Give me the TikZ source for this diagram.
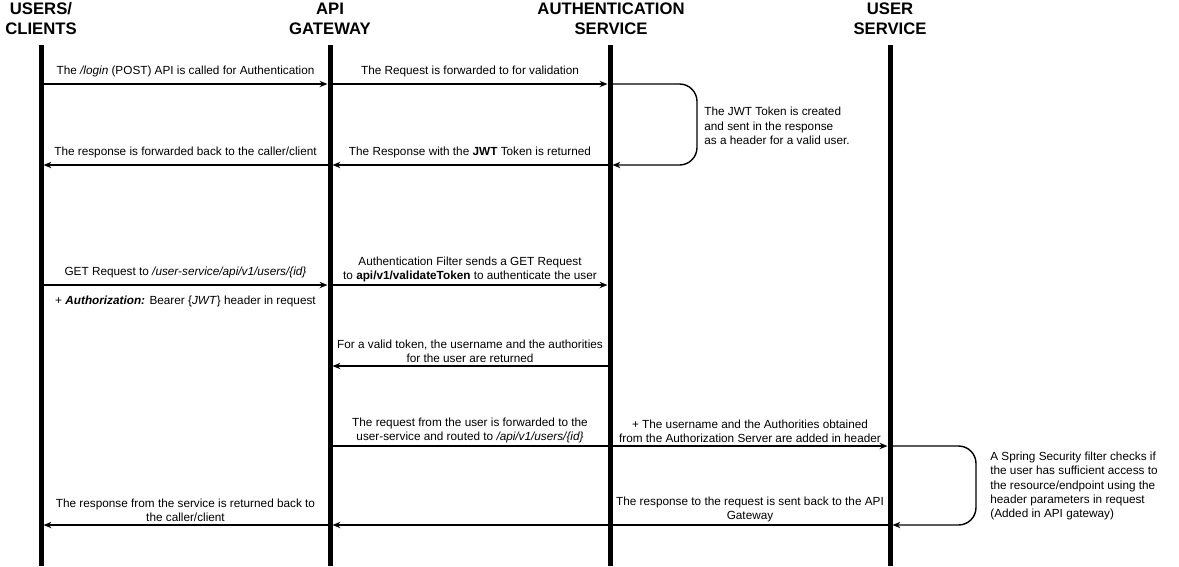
\documentclass[tikz,border=0pt]{standalone}
\usepackage{fontspec}
\setmainfont{Liberation Sans}
\usetikzlibrary{arrows.meta}

\begin{document}
\begin{tikzpicture}[x=0.02cm,y=-0.02cm,
    msg/.style={draw,line width=0.8pt,shorten >=0.05cm,-{Stealth[length=4.5pt,width=3.6pt]}},
    lbl/.style={above=2.8pt,inner sep=1pt},
    lbltwo/.style={above=0.3pt,inner sep=1pt,align=center},
    note/.style={anchor=west,align=left,inner sep=0pt}]

        \useasboundingbox (0,0) rectangle (1179,566);

        \begin{scope}[every node/.style={font=\bfseries\fontsize{9.5}{11.4}\selectfont,align=center}]
          \node (users)   at (41,19)  {USERS/\\CLIENTS};
          \node (gateway) at (330,19) {API\\GATEWAY};
          \node (auth)    at (611,19) {AUTHENTICATION\\SERVICE};
          \node (usersvc) at (890,19) {USER\\SERVICE};
        \end{scope}

        % lifelines, with one point per message row
        \foreach \n/\x in {u/41,g/330,a/610,s/890} {
          \coordinate (\n0) at (\x,45);
          \coordinate (\n9) at (\x,566);
          \draw[line width=0.1cm] (\n0) -- (\n9);
          \foreach \k/\y in {1/84,2/165,3/285,4/366,5/446,6/525}
            \coordinate (\n\k) at (\x,\y);
        }
        \coordinate (loopa) at (697,124);
        \coordinate (loops) at (976,486);

        \begin{scope}[every node/.style={font=\fontsize{6.7}{8.2}\selectfont}]

          \path (u1) edge[msg] node[lbl] {The \textit{/login} (POST) API is called for Authentication} (g1);
          \path (g1) edge[msg] node[lbl] {The Request is forwarded to for validation} (a1);
          \draw[msg,rounded corners=0.35cm] (a1) -| (loopa) |- (a2);
          \node[note] (jwtnote) at (704,126) {The JWT Token is created\\and sent in the response\\as a header for a valid user.};
          \path (a2) edge[msg] node[lbl] {The Response with the \textbf{JWT} Token is returned} (g2);
          \path (g2) edge[msg] node[lbl] {The response is forwarded back to the caller/client} (u2);

          \path (u3) edge[msg] node[lbl] {GET Request to \textit{/user-service/api/v1/users/\{id\}}}
                               node[below=5pt,inner sep=1pt] {+ \textbf{\textit{Authorization:}} Bearer \{\textit{JWT}\} header in request} (g3);
          \path (g3) edge[msg] node[lbltwo] {Authentication Filter sends a GET Request\\to \textbf{api/v1/validateToken} to authenticate the user} (a3);
          \path (a4) edge[msg] node[lbltwo] {For a valid token, the username and the authorities\\for the user are returned} (g4);

          \path (g5) edge[msg] node[lbltwo,pos=.25] {The request from the user is forwarded to the\\user-service and routed to \textit{/api/v1/users/\{id\}}}
                               node[lbltwo,pos=.75] {+ The username and the Authorities obtained\\from the Authorization Server are added in header} (s5);
          \draw[msg,rounded corners=0.35cm] (s5) -| (loops) |- (s6);
          \node[note] (springnote) at (990,486) {A Spring Security filter checks if\\the user has sufficient access to\\the resource/endpoint using the\\header parameters in request\\(Added in API gateway)};
          \path (s6) edge[msg] node[lbltwo,pos=.25] {The response to the request is sent back to the API\\Gateway} (g6);
          \path (g6) edge[msg] node[lbltwo] {The response from the service is returned back to\\the caller/client} (u6);

        \end{scope}

      \end{tikzpicture}
\end{document}
